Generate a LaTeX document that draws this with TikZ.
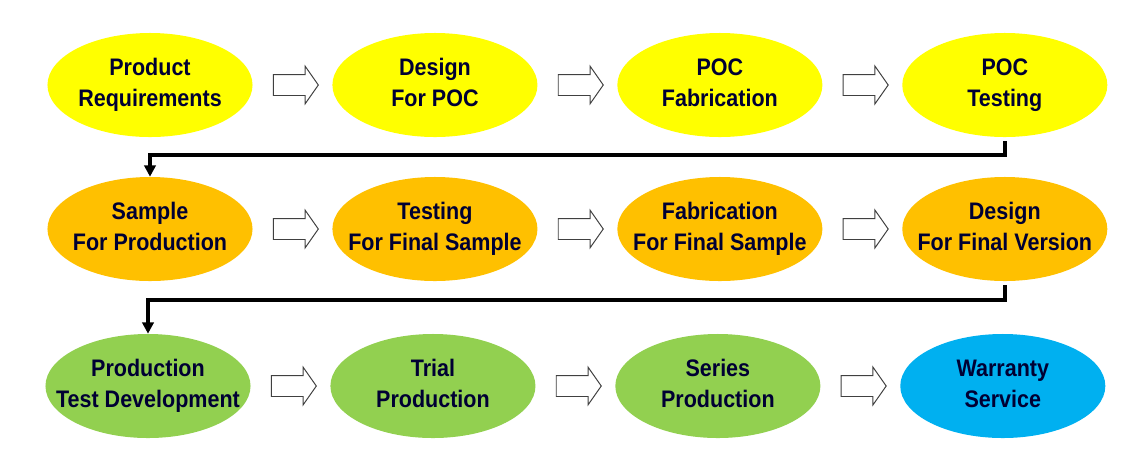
\documentclass[tikz,border=0pt]{standalone}
\usepackage{fontspec}
\setmainfont{Liberation Sans}[FakeStretch=0.9]
\usepackage{xcolor}
\usepackage{tikz}
\usetikzlibrary{positioning, arrows.meta, shapes.geometric, shapes.arrows}

\definecolor{pocyellow}{HTML}{FFFF00}
\definecolor{sampleorange}{HTML}{FFC000}
\definecolor{seriesgreen}{HTML}{92D050}
\definecolor{serviceblue}{HTML}{00B0F0}
\definecolor{inknavy}{HTML}{000033}
\newcommand{\stagetext}[1]{\makebox[0pt]{\begin{tabular}{@{}c@{}}#1\end{tabular}}}

\begin{document}
\begin{tikzpicture}[
    x=0.025cm, y=-0.025cm,
    stage/.style={ellipse, fill=#1, minimum width=5.125cm, minimum height=2.6cm, inner sep=0pt, text=inknavy, font=\fontsize{17}{22}\selectfont\bfseries},
    nextarrow/.style={single arrow, draw=black!75, fill=white, line width=0.7pt, minimum height=1.125cm, inner sep=0.25cm, single arrow head extend=0.21cm, single arrow tip angle=110},
    link/.style={-{Triangle[width=8pt,length=8pt]}, line width=2.5pt, shorten <=0.1cm}
]
\useasboundingbox (0,0) rectangle (1125,463);

% Row 1: proof of concept
\node[stage=pocyellow] (req) at (150,85) {\stagetext{Product\\Requirements}};
\node[nextarrow, right=0.5cm of req] (a11) {};
\node[stage=pocyellow, right=0.33cm of a11] (dpoc) {\stagetext{Design\\For POC}};
\node[nextarrow, right=0.5cm of dpoc] (a12) {};
\node[stage=pocyellow, right=0.33cm of a12] (fpoc) {\stagetext{POC\\Fabrication}};
\node[nextarrow, right=0.5cm of fpoc] (a13) {};
\node[stage=pocyellow, right=0.33cm of a13] (tpoc) {\stagetext{POC\\Testing}};

% Row 2: final sample
\node[stage=sampleorange] (sample) at (150,229) {\stagetext{Sample\\For Production}};
\node[nextarrow, right=0.5cm of sample] (a21) {};
\node[stage=sampleorange, right=0.33cm of a21] (tfinal) {\stagetext{Testing\\For Final Sample}};
\node[nextarrow, right=0.5cm of tfinal] (a22) {};
\node[stage=sampleorange, right=0.33cm of a22] (ffinal) {\stagetext{Fabrication\\For Final Sample}};
\node[nextarrow, right=0.5cm of ffinal] (a23) {};
\node[stage=sampleorange, right=0.33cm of a23] (dfinal) {\stagetext{Design\\For Final Version}};

% Row 3: production
\node[stage=seriesgreen] (ptest) at (148,386) {\stagetext{Production\\Test Development}};
\node[nextarrow, right=0.5cm of ptest] (a31) {};
\node[stage=seriesgreen, right=0.33cm of a31] (trial) {\stagetext{Trial\\Production}};
\node[nextarrow, right=0.5cm of trial] (a32) {};
\node[stage=seriesgreen, right=0.33cm of a32] (series) {\stagetext{Series\\Production}};
\node[nextarrow, right=0.5cm of series] (a33) {};
\node[stage=serviceblue, right=0.33cm of a33] (warranty) {\stagetext{Warranty\\Service}};

% Row changes
\coordinate (turn1) at (0,155);
\coordinate (turn2) at (0,300);
\draw[link] (tpoc.south) -- (tpoc.south |- turn1) -| (sample.north);
\draw[link] (dfinal.south) -- (dfinal.south |- turn2) -| (ptest.north);

\end{tikzpicture}
\end{document}
